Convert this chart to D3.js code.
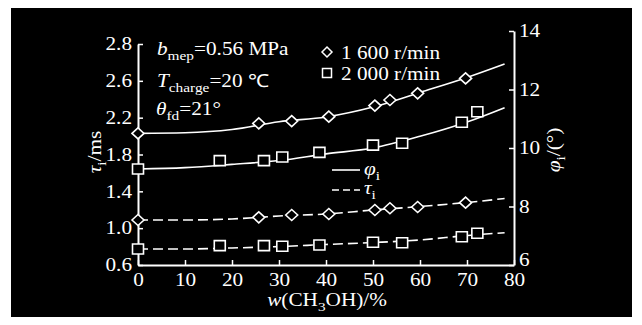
<!DOCTYPE html>
<html>
<head>
<meta charset="utf-8">
<script src="https://cdn.jsdelivr.net/npm/d3@7"></script>
<style>
  body { margin: 0; background: #fff; }
  svg { display: block; }
</style>
</head>
<body>
<svg id="chart" width="642" height="325"></svg>
<script>
// axis ticks
const xTicks = [0, 10, 20, 30, 40, 50, 60, 70, 80];
const tauTicks = [0.6, 1.0, 1.4, 1.8, 2.2, 2.6, 3.0];
const tauTickLabels = ['0.6', '1.0', '1.4', '1.8', '2.2', '2.6', '2.8'];
const phiTicks = [6, 8, 10, 12, 14];

// measured points, 1 600 r/min (diamonds)
const x1600 = [0, 25.7, 32.7, 40.6, 50.4, 53.6, 59.5, 69.7];
const phi1600 = [10.50, 10.84, 10.92, 11.07, 11.45, 11.64, 11.87, 12.38];
const tau1600 = [1.089, 1.118, 1.143, 1.154, 1.197, 1.216, 1.230, 1.277];

// measured points, 2 000 r/min (squares)
const x2000 = [0, 17.4, 26.8, 30.7, 38.6, 50.0, 56.2, 68.9, 72.2];
const phi2000 = [9.28, 9.57, 9.57, 9.69, 9.85, 10.10, 10.16, 10.88, 11.24];
const tau2000 = [0.774, 0.810, 0.810, 0.803, 0.817, 0.847, 0.842, 0.907, 0.944];

// fitted curves
const fitX = [0, 10, 20, 30, 40, 50, 60, 70, 78];
const phiFit1600 = [10.50, 10.52, 10.63, 10.90, 11.06, 11.40, 11.90, 12.41, 12.87];
const phiFit2000 = [9.28, 9.33, 9.44, 9.57, 9.80, 10.00, 10.40, 10.89, 11.38];
const tauFit1600 = [1.089, 1.089, 1.100, 1.132, 1.154, 1.197, 1.235, 1.279, 1.322];
const tauFit2000 = [0.774, 0.774, 0.785, 0.800, 0.823, 0.844, 0.872, 0.920, 0.951];

const FONT = '"Liberation Serif", "Times New Roman", serif';
const FS = 18;
const SX = 1.18; // glyphs in the figure are a bit wide

const svg = d3.select('#chart');

svg.append('rect')
  .attr('x', 11).attr('y', 8)
  .attr('width', 621).attr('height', 309)
  .attr('fill', '#000');

const xScale = d3.scaleLinear().domain([0, 80]).range([138, 514]);
const tauScale = d3.scaleLinear().domain([0.6, 3.0]).range([265, 44]);
const phiScale = d3.scaleLinear().domain([6, 14]).range([265, 31]);

function styleAxis(g) {
  g.attr('font-size', FS).attr('font-family', FONT).style('color', '#fff');
  g.select('.domain').attr('stroke-width', 2);
  g.selectAll('.tick line').attr('stroke-width', 1.5);
  g.selectAll('.tick text').each(function () {
    const t = d3.select(this);
    t.attr('x', (+t.attr('x') || 0) / SX).attr('transform', `scale(${SX},1)`);
  });
}

svg.append('g')
  .attr('transform', 'translate(0,265)')
  .call(d3.axisBottom(xScale).tickValues(xTicks).tickSize(-5).tickSizeOuter(0).tickPadding(8))
  .call(styleAxis);

svg.append('g')
  .attr('transform', 'translate(138,0)')
  .call(d3.axisLeft(tauScale).tickValues(tauTicks)
    .tickFormat((d, i) => tauTickLabels[i])
    .tickSize(-5).tickSizeOuter(0).tickPadding(6))
  .call(styleAxis);

svg.append('g')
  .attr('transform', 'translate(514,0)')
  .call(d3.axisRight(phiScale).tickValues(phiTicks).tickSize(-5).tickSizeOuter(0).tickPadding(5))
  .call(styleAxis)
  // the lowest label sits a little higher in the figure, clear of "80"
  .call(g => g.selectAll('.tick text').filter(d => d === phiTicks[0]).attr('y', -5));

// text with italic / subscript runs
function label(x, y, parts, opts = {}) {
  const t = svg.append('text')
    .attr('transform', `translate(${x},${y}) rotate(${opts.rot || 0}) scale(${SX},1)`)
    .attr('text-anchor', opts.anchor || 'start')
    .attr('font-family', FONT)
    .attr('font-size', FS)
    .attr('fill', '#fff');
  let shift = 0;
  parts.forEach(p => {
    const s = t.append('tspan').text(p.t);
    const want = p.sub ? 5 : 0;
    if (want !== shift) { s.attr('dy', want - shift); shift = want; }
    if (p.sub) s.attr('font-size', 13);
    if (p.it) s.attr('font-style', 'italic');
  });
  return t;
}

// curves
const line = (xs, ys, yScale) => d3.line()
  .x((d, i) => xScale(xs[i]))
  .y((d, i) => yScale(ys[i]))
  .curve(d3.curveMonotoneX)(ys);

[[phiFit1600, phiScale, null], [phiFit2000, phiScale, null],
 [tauFit1600, tauScale, '10,5'], [tauFit2000, tauScale, '10,5']].forEach(([ys, sc, dash]) => {
  svg.append('path')
    .attr('d', line(fitX, ys, sc))
    .attr('fill', 'none')
    .attr('stroke', '#fff')
    .attr('stroke-width', 1.6)
    .attr('stroke-dasharray', dash);
});

// markers
const diamond = 'M-6,0L0,-5.5L6,0L0,5.5Z';
const square = 'M-5.5,-5H5.5V5H-5.5Z';

function markers(xs, ys, yScale, shape) {
  svg.append('g').selectAll('path')
    .data(ys)
    .join('path')
    .attr('transform', (d, i) => `translate(${xScale(xs[i])},${yScale(d)})`)
    .attr('d', shape)
    .attr('fill', '#000')
    .attr('stroke', '#fff')
    .attr('stroke-width', 1.6);
}

markers(x1600, phi1600, phiScale, diamond);
markers(x1600, tau1600, tauScale, diamond);
markers(x2000, phi2000, phiScale, square);
markers(x2000, tau2000, tauScale, square);

// conditions
label(157, 55, [{ t: 'b', it: true }, { t: 'mep', sub: true }, { t: '=0.56 MPa' }]);
label(157, 87, [{ t: 'T', it: true }, { t: 'charge', sub: true }, { t: '=20 \u2103' }]);
label(156, 115, [{ t: '\u03b8', it: true }, { t: 'fd', sub: true }, { t: '=21\u00b0' }]);

// speed legend
svg.append('path').attr('transform', 'translate(327,52)').attr('d', 'M-5,0L0,-5L5,0L0,5Z')
  .attr('fill', 'none').attr('stroke', '#fff').attr('stroke-width', 1.5);
svg.append('path').attr('transform', 'translate(327,73)').attr('d', 'M-4.5,-4.5H4.5V4.5H-4.5Z')
  .attr('fill', 'none').attr('stroke', '#fff').attr('stroke-width', 1.5);
label(341, 59, [{ t: '1 600 r/min' }]);
label(341, 80, [{ t: '2 000 r/min' }]);

// line legend
svg.append('line').attr('x1', 332).attr('x2', 360).attr('y1', 170).attr('y2', 170)
  .attr('stroke', '#fff').attr('stroke-width', 1.6);
svg.append('line').attr('x1', 332).attr('x2', 360).attr('y1', 190).attr('y2', 190)
  .attr('stroke', '#fff').attr('stroke-width', 1.6).attr('stroke-dasharray', '7,4');
label(364, 175, [{ t: '\u03c6', it: true }, { t: 'i', sub: true }]);
label(364, 194, [{ t: '\u03c4', it: true }, { t: 'i', sub: true }]);

// axis titles
label(327, 306, [{ t: 'w', it: true }, { t: '(CH' }, { t: '3', sub: true }, { t: 'OH)/%' }], { anchor: 'middle' });
label(101, 152, [{ t: '\u03c4', it: true }, { t: 'i', sub: true }, { t: '/ms' }], { anchor: 'middle', rot: -90 });
label(560, 150, [{ t: '\u03c6', it: true }, { t: 'i', sub: true }, { t: '/(\u00b0)' }], { anchor: 'middle', rot: -90 });
</script>
</body>
</html>
